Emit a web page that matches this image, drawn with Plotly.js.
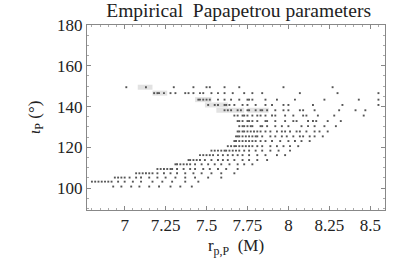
<!DOCTYPE html>
<html>
<head>
<meta charset="utf-8">
<script src="https://cdn.plot.ly/plotly-3.0.1.min.js"></script>
<style>html,body{margin:0;padding:0;background:#fff;}#chart{width:415px;height:258px;}</style>
</head>
<body>
<div id="chart"></div>
<script>
// Row inclination values (degrees) and the r_p,P values of the dots in each row
const rowIota = [149.5, 146.6, 143.4, 140.8, 138.2, 135.6, 132.9, 130.4, 127.8, 125.4, 123.1,
                 120.6, 118.4, 116.2, 113.8, 111.7, 109.4, 107.3, 105.2, 103.2, 100.8];
const rowR = [
  [7.01, 7.13, 7.30, 7.42, 7.50, 7.52, 7.61, 7.70, 7.97, 8.27],
  [7.18, 7.20, 7.21, 7.24, 7.28, 7.31, 7.37, 7.39, 7.42, 7.46, 7.48, 7.53, 7.57, 7.61, 7.66, 7.73, 7.78, 7.84, 8.07, 8.30, 8.55],
  [7.45, 7.46, 7.48, 7.50, 7.52, 7.57, 7.61, 7.65, 7.70, 7.75, 7.76, 7.78, 7.86, 7.93, 8.04, 8.22, 8.43, 8.55],
  [7.51, 7.55, 7.57, 7.61, 7.62, 7.64, 7.67, 7.72, 7.75, 7.80, 7.86, 7.90, 7.97, 8.00, 8.15, 8.33, 8.55],
  [7.61, 7.63, 7.65, 7.69, 7.71, 7.75, 7.76, 7.80, 7.83, 7.84, 7.87, 7.92, 7.97, 8.00, 8.07, 8.09, 8.16, 8.31, 8.41, 8.47],
  [7.67, 7.69, 7.72, 7.73, 7.75, 7.78, 7.81, 7.83, 7.86, 7.90, 7.92, 7.98, 8.03, 8.09, 8.11, 8.18, 8.28, 8.46],
  [7.69, 7.70, 7.72, 7.75, 7.76, 7.78, 7.81, 7.86, 7.87, 7.92, 7.98, 8.03, 8.05, 8.12, 8.15, 8.17, 8.24, 8.32],
  [7.70, 7.72, 7.73, 7.75, 7.77, 7.78, 7.83, 7.84, 7.87, 7.92, 7.96, 8.00, 8.08, 8.12, 8.16, 8.22, 8.29],
  [7.69, 7.70, 7.72, 7.73, 7.75, 7.77, 7.79, 7.81, 7.83, 7.86, 7.89, 7.93, 7.96, 7.98, 8.01, 8.05, 8.07, 8.11, 8.16, 8.19, 8.24],
  [7.68, 7.69, 7.70, 7.72, 7.74, 7.76, 7.78, 7.80, 7.81, 7.84, 7.89, 7.92, 7.96, 7.99, 8.03, 8.07, 8.09, 8.13, 8.16, 8.21],
  [7.67, 7.68, 7.70, 7.72, 7.74, 7.76, 7.78, 7.80, 7.83, 7.86, 7.90, 7.95, 8.00, 8.04, 8.08, 8.13],
  [7.63, 7.65, 7.67, 7.68, 7.70, 7.72, 7.74, 7.76, 7.78, 7.81, 7.84, 7.89, 7.93, 7.97, 8.01, 8.06],
  [7.53, 7.55, 7.57, 7.59, 7.61, 7.62, 7.64, 7.66, 7.68, 7.70, 7.73, 7.76, 7.80, 7.84, 7.89, 7.94, 8.01],
  [7.46, 7.48, 7.50, 7.52, 7.54, 7.57, 7.60, 7.63, 7.66, 7.69, 7.72, 7.76, 7.81, 7.86, 7.93, 7.98],
  [7.39, 7.40, 7.42, 7.44, 7.46, 7.49, 7.53, 7.57, 7.60, 7.63, 7.67, 7.72, 7.76, 7.81, 7.87],
  [7.31, 7.32, 7.34, 7.36, 7.38, 7.40, 7.43, 7.47, 7.51, 7.55, 7.59, 7.64, 7.69, 7.73, 7.78],
  [7.20, 7.22, 7.24, 7.26, 7.28, 7.29, 7.32, 7.36, 7.40, 7.43, 7.48, 7.52, 7.57, 7.62, 7.69],
  [7.07, 7.09, 7.11, 7.13, 7.15, 7.17, 7.20, 7.24, 7.28, 7.32, 7.37, 7.42, 7.47, 7.53, 7.59, 7.67],
  [6.94, 6.96, 6.98, 7.00, 7.03, 7.07, 7.10, 7.15, 7.20, 7.25, 7.31, 7.37, 7.43, 7.51, 7.59],
  [6.80, 6.82, 6.84, 6.86, 6.88, 6.90, 6.92, 6.96, 7.00, 7.05, 7.10, 7.17, 7.23, 7.29, 7.37, 7.45],
  [6.93, 6.98, 7.04, 7.09, 7.15, 7.21, 7.28, 7.34, 7.41]
];
// Light grey clusters (overlapping estimates) in the upper rows
const boxIota  = [149.5, 146.6, 143.4, 140.8, 138.2, 138.2];
const boxStart = [7.08, 7.17, 7.43, 7.49, 7.56, 7.75];
const boxEnd   = [7.17, 7.26, 7.53, 7.63, 7.73, 7.88];

const xTicks = [7, 7.25, 7.5, 7.75, 8, 8.25, 8.5];
const xTickText = ['7', '7.25', '7.5', '7.75', '8', '8.25', '8.5'];
const yTicks = [100, 120, 140, 160, 180];

const px = [], py = [];
rowR.forEach((row, i) => row.forEach(r => { px.push(r); py.push(rowIota[i]); }));
const bx = [], by = [];
boxIota.forEach((y, i) => { bx.push(boxStart[i], boxEnd[i], null); by.push(y, y, null); });

const serif = 'Liberation Serif, Times New Roman, serif';
const axisCommon = {
  showgrid: false, zeroline: false, showline: true, mirror: 'allticks',
  linecolor: '#888', linewidth: 1, ticks: 'inside', ticklen: 4, tickcolor: '#888',
  tickfont: {family: serif, size: 17, color: '#222'},
};

Plotly.newPlot('chart', [
  {type: 'scatter', mode: 'lines', x: bx, y: by, line: {color: '#e2e2e2', width: 5}, hoverinfo: 'skip'},
  {type: 'scatter', mode: 'markers', x: px, y: py,
   marker: {symbol: 'square', size: 1.9, color: '#555', line: {width: 0}}}
], {
  width: 415, height: 258,
  margin: {l: 87, r: 30, t: 25, b: 48},
  paper_bgcolor: '#fff', plot_bgcolor: '#fff',
  showlegend: false,
  title: {text: 'Empirical  Papapetrou parameters', font: {family: serif, size: 19.5, color: '#222'},
          x: 0.575, xanchor: 'center', y: 0.96, yanchor: 'middle'},
  xaxis: Object.assign({}, axisCommon, {
    range: [6.77, 8.59], tickvals: xTicks, ticktext: xTickText,
    minor: {dtick: 0.05, ticklen: 2, tickcolor: '#aaa', ticks: 'inside'},
    title: {text: 'r<sub>p,P</sub>  (M)', font: {family: serif, size: 17, color: '#222'}, standoff: 11}
  }),
  yaxis: Object.assign({}, axisCommon, {
    range: [89.3, 180], tickvals: yTicks,
    minor: {dtick: 5, ticklen: 2, tickcolor: '#aaa', ticks: 'inside'},
    title: {text: '<i>ι</i><sub>P</sub> (°)', font: {family: serif, size: 17, color: '#222'}, standoff: 12}
  })
}, {displayModeBar: false, staticPlot: true});
</script>
</body>
</html>
